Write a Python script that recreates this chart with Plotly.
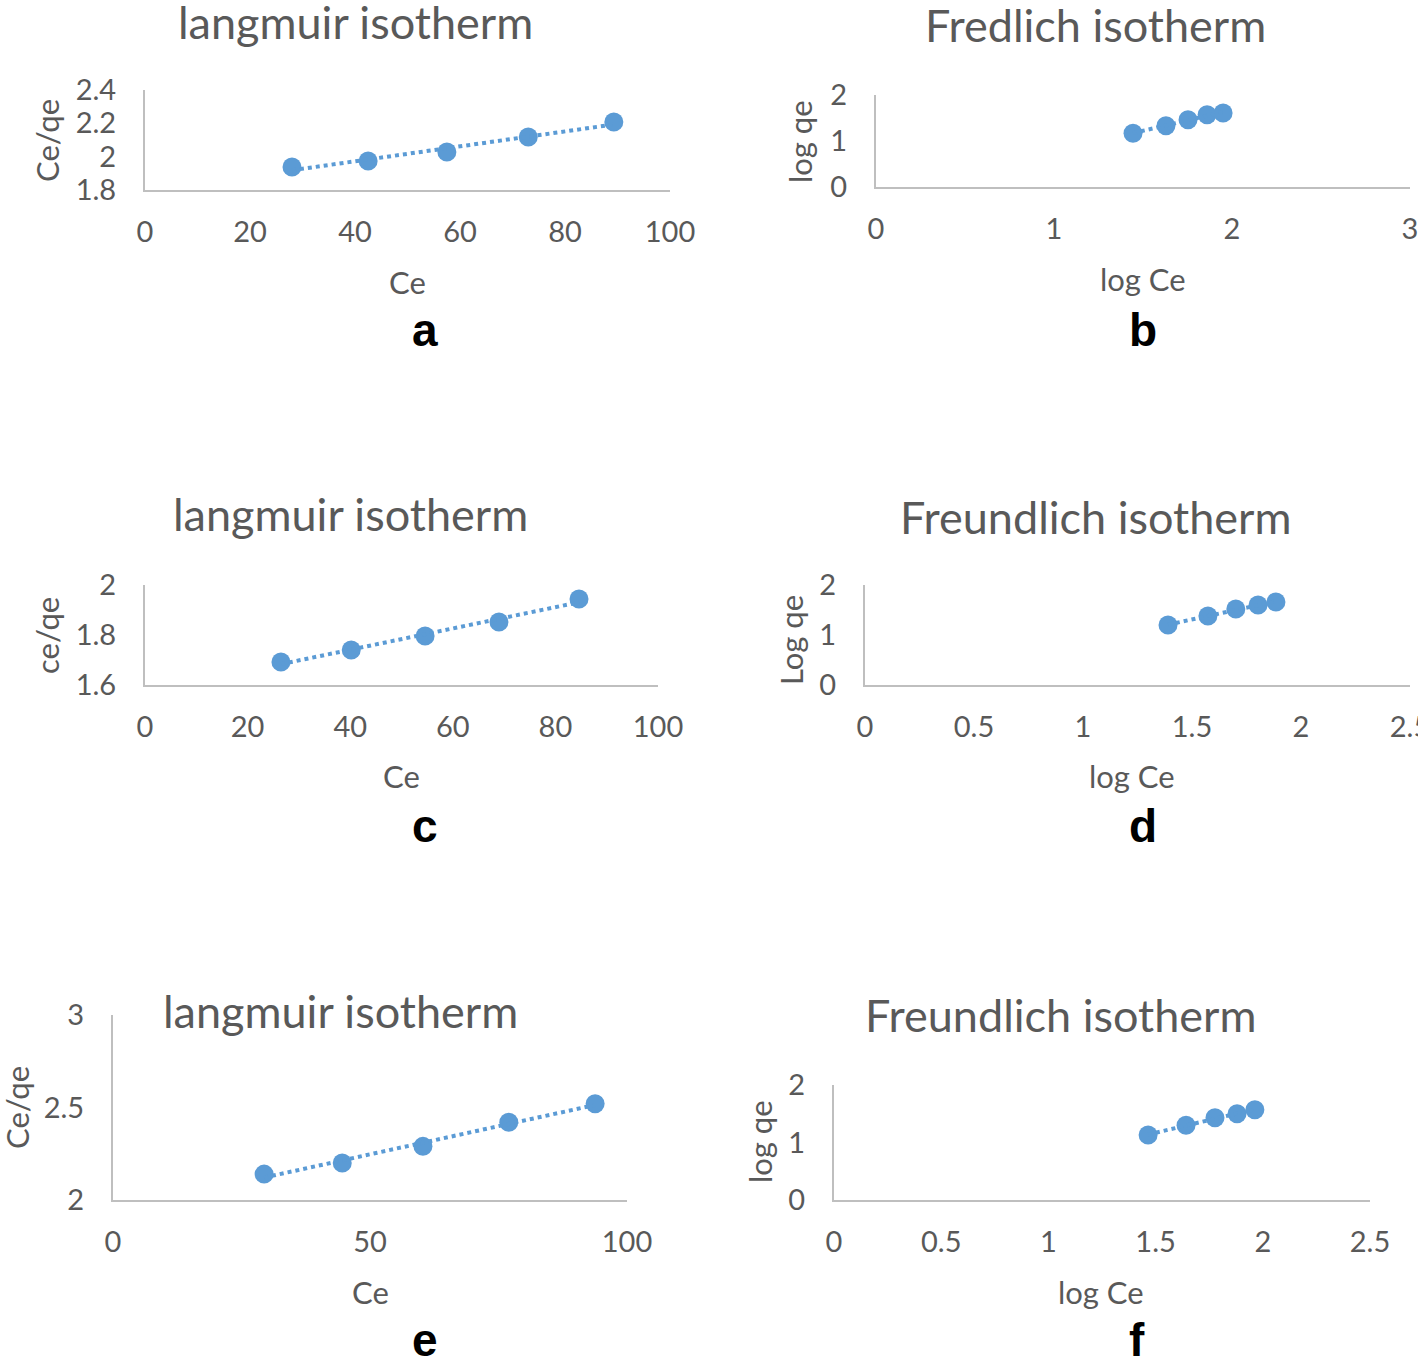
import numpy as np
import plotly.graph_objects as go

W, H = 1418, 1357

# ---- data ----
a_x = [28.0, 42.5, 57.5, 73.0, 89.3]
a_y = [1.938, 1.974, 2.028, 2.118, 2.208]
b_x = [1.444, 1.629, 1.753, 1.860, 1.950]
b_y = [1.17, 1.33, 1.46, 1.57, 1.61]
c_x = [26.5, 40.2, 54.6, 69.0, 84.6]
c_y = [1.692, 1.740, 1.796, 1.852, 1.944]
d_x = [1.390, 1.573, 1.701, 1.803, 1.885]
d_y = [1.20, 1.38, 1.52, 1.60, 1.66]
e_x = [29.4, 44.6, 60.3, 77.0, 93.8]
e_y = [2.14, 2.20, 2.29, 2.42, 2.52]
f_x = [1.465, 1.642, 1.777, 1.880, 1.963]
f_y = [1.13, 1.30, 1.43, 1.50, 1.57]

titles = ["langmuir isotherm", "Fredlich isotherm", "langmuir isotherm",
          "Freundlich isotherm", "langmuir isotherm", "Freundlich isotherm"]
xtitles = ["Ce", "log Ce", "Ce", "log Ce", "Ce", "log Ce"]
ytitles = ["Ce/qe", "log qe", "ce/qe", "Log qe", "Ce/qe", "log qe"]
letters = ["a", "b", "c", "d", "e", "f"]

xranges = [[0, 100], [0, 3], [0, 100], [0, 2.5], [0, 100], [0, 2.5]]
yranges = [[1.8, 2.4], [0, 2], [1.6, 2.0], [0, 2], [2, 3], [0, 2]]
xdticks = [20, 1, 20, 0.5, 50, 0.5]
ydticks = [0.2, 1, 0.2, 1, 0.5, 1]

series = [(a_x, a_y), (b_x, b_y), (c_x, c_y), (d_x, d_y), (e_x, e_y), (f_x, f_y)]

# ---- layout geometry (pixels) ----
# plot boxes: left, right, top, bottom
boxes = [(145, 670, 90, 190), (876, 1410, 95, 187),
         (145, 658, 585, 685), (865, 1410, 585, 685),
         (113, 627, 1015, 1200), (834, 1370, 1085, 1200)]
title_pos = [(355, 22), (1095, 25), (350, 514), (1095, 517), (340, 1011), (1060, 1015)]
xt_pos = [(407, 282), (1143, 279), (401, 776), (1132, 776), (370, 1292), (1101, 1292)]
yt_pos = [(47, 140), (800, 142), (47, 635), (791, 640), (17, 1108), (760, 1142)]
let_pos = [(425, 330), (1143, 330), (425, 826), (1143, 826), (425, 1340), (1137, 1340)]

BLUE = "#5b9bd5"
GREY = "#595959"
FONT = "Lato, Open Sans, sans-serif"

fig = go.Figure()
layout = {}
annotations = []

for i, ((xs, ys), box) in enumerate(zip(series, boxes)):
    n = i + 1
    xa = "x" if n == 1 else f"x{n}"
    ya = "y" if n == 1 else f"y{n}"
    l, r, t, b = box
    fig.add_trace(go.Scatter(x=xs, y=ys, mode="markers", xaxis=xa, yaxis=ya,
                             marker=dict(size=19, color=BLUE), showlegend=False,
                             cliponaxis=False))
    k, c0 = np.polyfit(xs, ys, 1)
    lx = np.array([min(xs), max(xs)])
    fig.add_trace(go.Scatter(x=lx, y=k * lx + c0, mode="lines", xaxis=xa, yaxis=ya,
                             line=dict(color=BLUE, width=4, dash="dot"), showlegend=False))
    axkey_x = "xaxis" if n == 1 else f"xaxis{n}"
    axkey_y = "yaxis" if n == 1 else f"yaxis{n}"
    layout[axkey_x] = dict(domain=[l / W, r / W], anchor=ya, range=xranges[i],
                           dtick=xdticks[i], tick0=0, showgrid=False, zeroline=False,
                           showline=True, linecolor="#bfbfbf", linewidth=2,
                           ticks="", ticklabelstandoff=15, automargin=False,
                           ticklabeloverflow="allow",
                           tickfont=dict(size=29, color=GREY, family=FONT))
    layout[axkey_y] = dict(domain=[1 - b / H, 1 - t / H], anchor=xa, range=yranges[i],
                           dtick=ydticks[i], tick0=0, showgrid=False, zeroline=False,
                           showline=True, linecolor="#bfbfbf", linewidth=2,
                           ticks="", ticklabelstandoff=21, automargin=False,
                           ticklabeloverflow="allow",
                           tickfont=dict(size=29, color=GREY, family=FONT))
    tx, ty = title_pos[i]
    annotations.append(dict(text=titles[i], x=tx / W, y=1 - ty / H, xref="paper", yref="paper",
                            showarrow=False, xanchor="center", yanchor="middle",
                            font=dict(size=45, color=GREY, family=FONT)))
    tx, ty = xt_pos[i]
    annotations.append(dict(text=xtitles[i], x=tx / W, y=1 - ty / H, xref="paper", yref="paper",
                            showarrow=False, xanchor="center", yanchor="middle",
                            font=dict(size=31, color=GREY, family=FONT)))
    tx, ty = yt_pos[i]
    annotations.append(dict(text=ytitles[i], x=tx / W, y=1 - ty / H, xref="paper", yref="paper",
                            showarrow=False, xanchor="center", yanchor="middle", textangle=-90,
                            font=dict(size=31, color=GREY, family=FONT)))
    tx, ty = let_pos[i]
    annotations.append(dict(text="<b>" + letters[i] + "</b>", x=tx / W, y=1 - ty / H,
                            xref="paper", yref="paper", showarrow=False,
                            xanchor="center", yanchor="middle",
                            font=dict(size=46, color="black", family="Liberation Sans, Arial")))

fig.update_layout(width=W, height=H, margin=dict(l=0, r=0, t=0, b=0, autoexpand=False),
                  paper_bgcolor="white", plot_bgcolor="white",
                  annotations=annotations, **layout)

fig.write_html("out.html", config={"displayModeBar": False},
               post_script="document.body.style.margin='0px';document.body.style.overflow='hidden';")
